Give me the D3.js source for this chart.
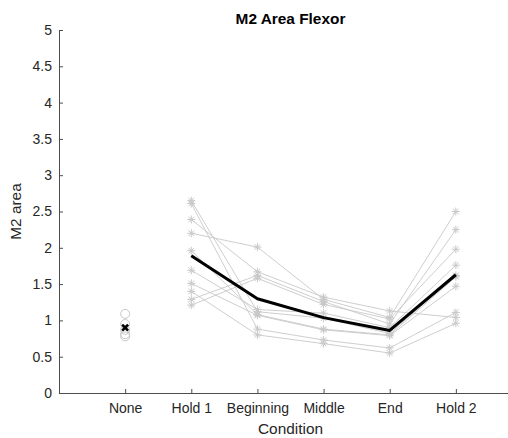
<!DOCTYPE html>
<html>
<head>
<meta charset="utf-8">
<script src="https://cdn.jsdelivr.net/npm/d3@7"></script>
<style>
  html, body { margin: 0; padding: 0; background: #fff; }
  svg { display: block; font-family: "Liberation Sans", Arial, Helvetica, sans-serif; }
</style>
</head>
<body>
<svg id="chart" width="508" height="438"></svg>
<script>
// ---- data ----
const categories = ["None", "Hold 1", "Beginning", "Middle", "End", "Hold 2"];
const yTicks = [0, 0.5, 1, 1.5, 2, 2.5, 3, 3.5, 4, 4.5, 5];
const yTickLabels = ["0", "0.5", "1", "1.5", "2", "2.5", "3", "3.5", "4", "4.5", "5"];
const noneValues = [1.09, 0.95, 0.87, 0.81, 0.78];
// one row per subject: Hold 1, Beginning, Middle, End, Hold 2
const subject1  = [2.65, 1.12, 1.03, 0.82, 1.62];
const subject2  = [2.61, 0.88, 0.73, 0.62, 1.11];
const subject3  = [2.39, 1.67, 1.32, 1.13, 1.04];
const subject4  = [2.20, 2.01, 1.29, 1.04, 2.50];
const subject5  = [1.96, 1.08, 0.88, 0.80, 1.60];
const subject6  = [1.69, 1.15, 1.10, 0.90, 1.76];
const subject7  = [1.51, 1.07, 0.87, 0.79, 1.47];
const subject8  = [1.40, 0.80, 0.68, 0.55, 0.96];
const subject9  = [1.29, 1.62, 1.26, 0.95, 2.25];
const subject10 = [1.21, 1.58, 1.22, 1.02, 1.98];
const subjects = [subject1, subject2, subject3, subject4, subject5,
                  subject6, subject7, subject8, subject9, subject10];
const taskCategories = categories.slice(1);

// ---- layout ----
const svg = d3.select("#chart");
const x = d3.scaleLinear().domain([0, 7]).range([59, 522]);
const y = d3.scaleLinear().domain([0, 5]).range([393, 30]);
const catX = name => x(categories.indexOf(name) + 1);

const axisColor = "#4d4d4d";
const textColor = "#262626";
const gray = "#c8c8c8";

// axes
const yAxis = d3.axisLeft(y).tickValues(yTicks)
  .tickFormat((d, i) => yTickLabels[i]).tickSize(-4).tickSizeOuter(0).tickPadding(7);
const gy = svg.append("g").attr("transform", `translate(${x(0)},0)`).call(yAxis);

const xAxis = d3.axisBottom(x).tickValues(categories.map((c, i) => i + 1))
  .tickFormat(d => categories[d - 1]).tickSize(-4).tickSizeOuter(0).tickPadding(10);
const gx = svg.append("g").attr("transform", `translate(0,${y(0)})`).call(xAxis);

[gx, gy].forEach(g => {
  g.selectAll("path.domain").attr("stroke", axisColor).attr("stroke-width", 1);
  g.selectAll(".tick line").attr("stroke", axisColor);
  g.selectAll(".tick text").attr("fill", textColor)
    .style("font-size", "14px").style("font-family", "'Liberation Sans', Arial, sans-serif");
});

// subject lines
const line = d3.line()
  .x((d, i) => catX(taskCategories[i]))
  .y(d => y(d));
svg.append("g").selectAll("path").data(subjects).join("path")
  .attr("d", line).attr("fill", "none").attr("stroke", gray).attr("stroke-width", 0.9);

// asterisk markers
const star = r => `M${-r},0L${r},0M0,${-r}L0,${r}` +
  `M${-r*0.7},${-r*0.7}L${r*0.7},${r*0.7}M${-r*0.7},${r*0.7}L${r*0.7},${-r*0.7}`;
const pts = [];
subjects.forEach(s => s.forEach((v, i) => pts.push({ c: taskCategories[i], v })));
svg.append("g").selectAll("path").data(pts).join("path")
  .attr("transform", d => `translate(${catX(d.c)},${y(d.v)})`)
  .attr("d", star(4)).attr("fill", "none").attr("stroke", gray).attr("stroke-width", 1);

// mean line
const means = taskCategories.map((c, i) => d3.mean(subjects, s => s[i]));
svg.append("path").datum(means).attr("d", line)
  .attr("fill", "none").attr("stroke", "#000").attr("stroke-width", 3)
  .attr("stroke-linejoin", "round");

// None circles
svg.append("g").selectAll("circle").data(noneValues).join("circle")
  .attr("cx", catX("None")).attr("cy", d => y(d)).attr("r", 4.5)
  .attr("fill", "none").attr("stroke", gray).attr("stroke-width", 1);
// None mean cross
const noneMean = d3.mean(noneValues);
svg.append("path")
  .attr("transform", `translate(${catX("None")},${y(noneMean)})`)
  .attr("d", "M-3,-3L3,3M-3,3L3,-3")
  .attr("stroke", "#000").attr("stroke-width", 2.6).attr("fill", "none");

// title & labels
svg.append("text").attr("x", (x(0) + x(7)) / 2).attr("y", 23.5)
  .attr("text-anchor", "middle").attr("fill", "#000")
  .style("font-size", "15.4px").style("font-weight", "bold").text("M2 Area Flexor");
svg.append("text").attr("x", (x(0) + x(7)) / 2).attr("y", 433.5)
  .attr("text-anchor", "middle").attr("fill", textColor)
  .style("font-size", "15.4px").text("Condition");
svg.append("text")
  .attr("transform", `translate(21,${(y(0) + y(5)) / 2}) rotate(-90)`)
  .attr("text-anchor", "middle").attr("fill", textColor)
  .style("font-size", "15.4px").text("M2 area");
</script>
</body>
</html>
